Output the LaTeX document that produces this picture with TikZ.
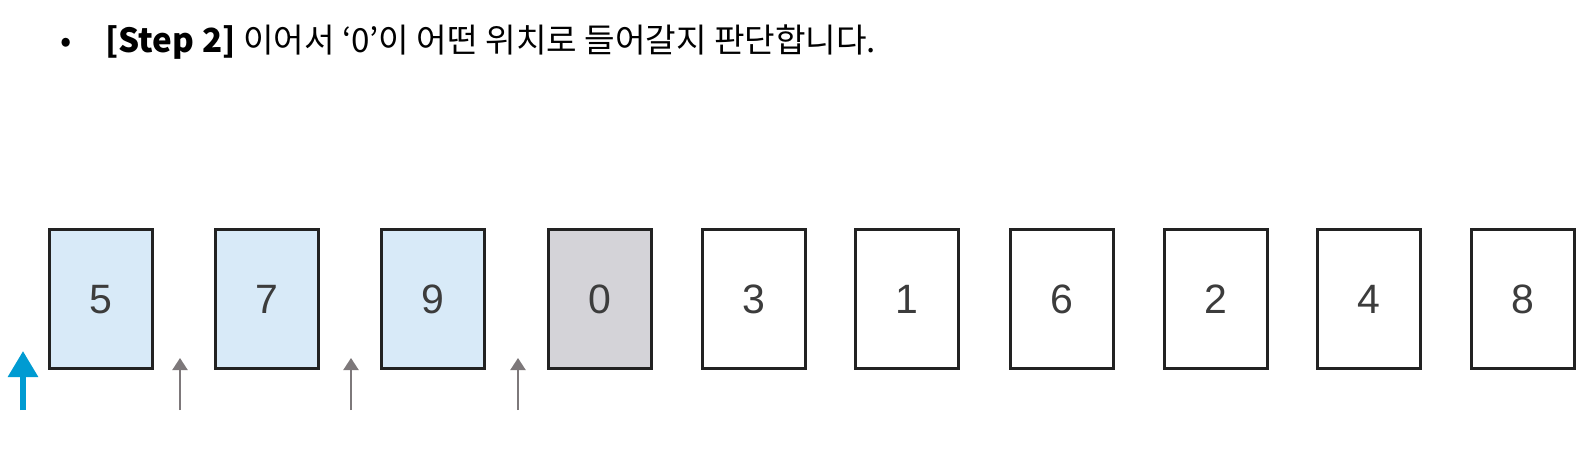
\documentclass[tikz,border=0pt]{standalone}
\usepackage{fontspec}
\setmainfont{Liberation Sans}
\newfontfamily\krfont{Noto Sans CJK KR}
\usetikzlibrary{arrows.meta}
\definecolor{cardblue}{RGB}{216,234,248}
\definecolor{cardgray}{RGB}{212,211,216}
\definecolor{cardline}{RGB}{34,34,34}
\definecolor{digitcol}{RGB}{60,60,60}
\definecolor{ptrgray}{RGB}{125,120,122}
\definecolor{ptrblue}{RGB}{0,155,210}
\tikzset{
  card/.style={draw=cardline, line width=1.5pt, rectangle, minimum width=51.5pt,
    minimum height=69.5pt, inner sep=0pt, font=\fontsize{20.5}{22}\selectfont,
    text height=14.7pt, text depth=0pt, text=digitcol},
  sorted/.style={card, fill=cardblue},
  current/.style={card, fill=cardgray},
  rest/.style={card, fill=white},
  ptr/.style={draw=ptrgray, line width=1pt, -{Triangle[width=7.5pt,length=6pt]}, ptrgray},
  bigptr/.style={draw=ptrblue, line width=3pt, -{Triangle[width=14.5pt,length=13pt]}, ptrblue}
}
\begin{document}
\begin{tikzpicture}[x=0.5pt,y=-0.5pt]
\useasboundingbox (0,0) rectangle (1594,455);
\node[anchor=base, font=\krfont\fontsize{16.6}{19}\selectfont] (bul) at (66,52) {•};
\node[anchor=base west, inner sep=0pt, font=\krfont\fontsize{16.6}{19}\selectfont] (title) at (105,52)
  {\textbf{[Step 2]} 이어서 ‘0’이 어떤 위치로 들어갈지 판단합니다.};
\node[sorted]  (c1)  at (101,298.5) {5};
\node[sorted]  (c2)  at (267,298.5) {7};
\node[sorted]  (c3)  at (433,298.5) {9};
\node[current] (c4)  at (599.5,298.5) {0};
\node[rest]    (c5)  at (753.5,298.5) {3};
\node[rest]    (c6)  at (907,298.5) {1};
\node[rest]    (c7)  at (1061.5,298.5) {6};
\node[rest]    (c8)  at (1215.5,298.5) {2};
\node[rest]    (c9)  at (1368.5,298.5) {4};
\node[rest]    (c10) at (1523,298.5) {8};
\coordinate (b0) at (23,410);  \coordinate (t0) at (23,351);
\coordinate (b1) at (180,410); \coordinate (t1) at (180,358);
\coordinate (b2) at (351,410); \coordinate (t2) at (351,358);
\coordinate (b3) at (518,410); \coordinate (t3) at (518,358);
\draw[bigptr] (b0) -- (t0);
\draw[ptr] (b1) -- (t1);
\draw[ptr] (b2) -- (t2);
\draw[ptr] (b3) -- (t3);
\end{tikzpicture}
\end{document}
